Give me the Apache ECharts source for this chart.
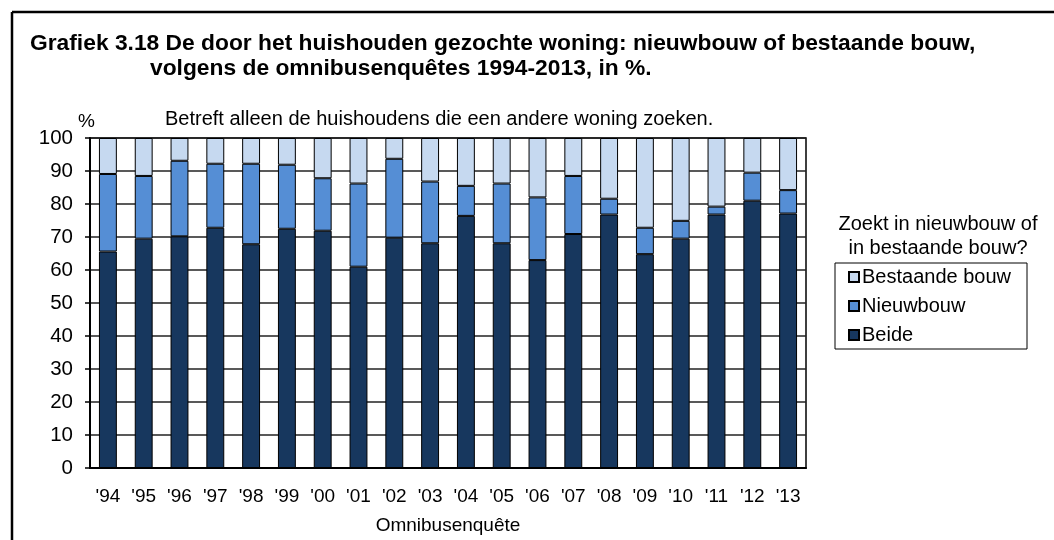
<!DOCTYPE html>
<html>
<head>
<meta charset="utf-8">
<script src="https://cdn.jsdelivr.net/npm/echarts@6/dist/echarts.min.js"></script>
<style>
  html, body { margin: 0; padding: 0; background: #fff; }
  #main { width: 1054px; height: 540px; }
</style>
</head>
<body>
<div id="main"></div>
<script>
const years = ["'94", "'95", "'96", "'97", "'98", "'99", "'00", "'01", "'02", "'03",
  "'04", "'05", "'06", "'07", "'08", "'09", "'10", "'11", "'12", "'13"];

// percentages
const beide = [65.6, 69.5, 70.2, 72.8, 67.8, 72.5, 71.9, 61.0, 69.8, 68.1,
  76.4, 68.1, 63.0, 70.9, 76.8, 64.8, 69.5, 76.8, 81.0, 77.1];
const nieuwbouw = [23.5, 19.0, 22.9, 19.4, 24.4, 19.4, 15.9, 25.2, 23.9, 18.7,
  9.1, 18.1, 19.0, 17.6, 4.8, 8.0, 5.4, 2.4, 8.5, 7.1];
const bestaande = [10.9, 11.5, 6.9, 7.8, 7.8, 8.1, 12.2, 13.8, 6.3, 13.2,
  14.5, 13.8, 18.0, 11.5, 18.4, 27.2, 25.1, 20.8, 10.5, 15.8];

const titleLine1 = "Grafiek 3.18 De door het huishouden gezochte woning: nieuwbouw of bestaande bouw,";
const titleLine2 = "volgens de omnibusenquêtes 1994-2013, in %.";
const subtitle = "Betreft alleen de huishoudens die een andere woning zoeken.";
const legendTitle = "Zoekt in nieuwbouw of\nin bestaande bouw?";
const xName = "Omnibusenquête";

const font = "'Liberation Sans', Arial, sans-serif";
const chart = echarts.init(document.getElementById("main"));

const option = {
  animation: false,
  textStyle: { fontFamily: font, color: "#000" },
  title: [
    { text: titleLine1, left: 25, top: 27, textStyle: { fontSize: 22.8, fontWeight: "bold", color: "#000", fontFamily: font } },
    { text: titleLine2, left: 145, top: 52, textStyle: { fontSize: 22.8, fontWeight: "bold", color: "#000", fontFamily: font } },
    { text: subtitle, left: 160, top: 104, textStyle: { fontSize: 20, fontWeight: "normal", color: "#000", fontFamily: font } },
    { text: "%", left: 73, top: 107, textStyle: { fontSize: 19, fontWeight: "normal", color: "#000", fontFamily: font } },
    { text: legendTitle, left: 933, top: 207, textAlign: "center",
      textStyle: { fontSize: 20, fontWeight: "normal", color: "#000", fontFamily: font, lineHeight: 24, align: "center" } }
  ],
  graphic: [
    { type: "line", shape: { x1: 12, y1: 12, x2: 1054, y2: 12 }, style: { stroke: "#000", lineWidth: 2.5 } },
    { type: "line", shape: { x1: 12, y1: 12, x2: 12, y2: 540 }, style: { stroke: "#000", lineWidth: 2.5 } }
  ],
  legend: {
    data: ["Bestaande bouw", "Nieuwbouw", "Beide"],
    orient: "vertical",
    left: 835,
    top: 263,
    icon: "rect",
    itemWidth: 10,
    itemHeight: 10,
    itemGap: 9,
    padding: [4, 16, 4, 13],
    borderColor: "#000",
    borderWidth: 1,
    textStyle: { fontSize: 20, color: "#000", fontFamily: font, padding: [0, 0, 0, -2] }
  },
  grid: {
    left: 90, right: 248, top: 138, bottom: 72,
    show: true, borderColor: "#000", borderWidth: 1.5
  },
  xAxis: {
    type: "category",
    data: years,
    name: xName,
    nameLocation: "middle",
    nameGap: 48,
    nameTextStyle: { fontSize: 19, color: "#000", fontFamily: font },
    axisLine: { lineStyle: { color: "#000", width: 2 } },
    axisTick: { length: 5, lineStyle: { color: "#000", width: 1.5 } },
    axisLabel: { fontSize: 19, color: "#000", margin: 19, fontFamily: font }
  },
  yAxis: {
    type: "value",
    min: 0, max: 100, interval: 10,
    axisLine: { show: true, lineStyle: { color: "#000", width: 2 } },
    axisTick: { show: true, length: 5, lineStyle: { color: "#000", width: 1.5 } },
    axisLabel: { fontSize: 20.5, color: "#000", margin: 17, fontFamily: font },
    splitLine: { lineStyle: { color: "#222", width: 1.5 } }
  },
  series: [
    { name: "Beide", type: "bar", stack: "t", data: beide, barWidth: "50%",
      itemStyle: { color: "#17375E", borderColor: "#000", borderWidth: 1 } },
    { name: "Nieuwbouw", type: "bar", stack: "t", data: nieuwbouw,
      itemStyle: { color: "#558ED5", borderColor: "#000", borderWidth: 1 } },
    { name: "Bestaande bouw", type: "bar", stack: "t", data: bestaande,
      itemStyle: { color: "#C6D9F0", borderColor: "#000", borderWidth: 1 } }
  ]
};

chart.setOption(option);
</script>
</body>
</html>
